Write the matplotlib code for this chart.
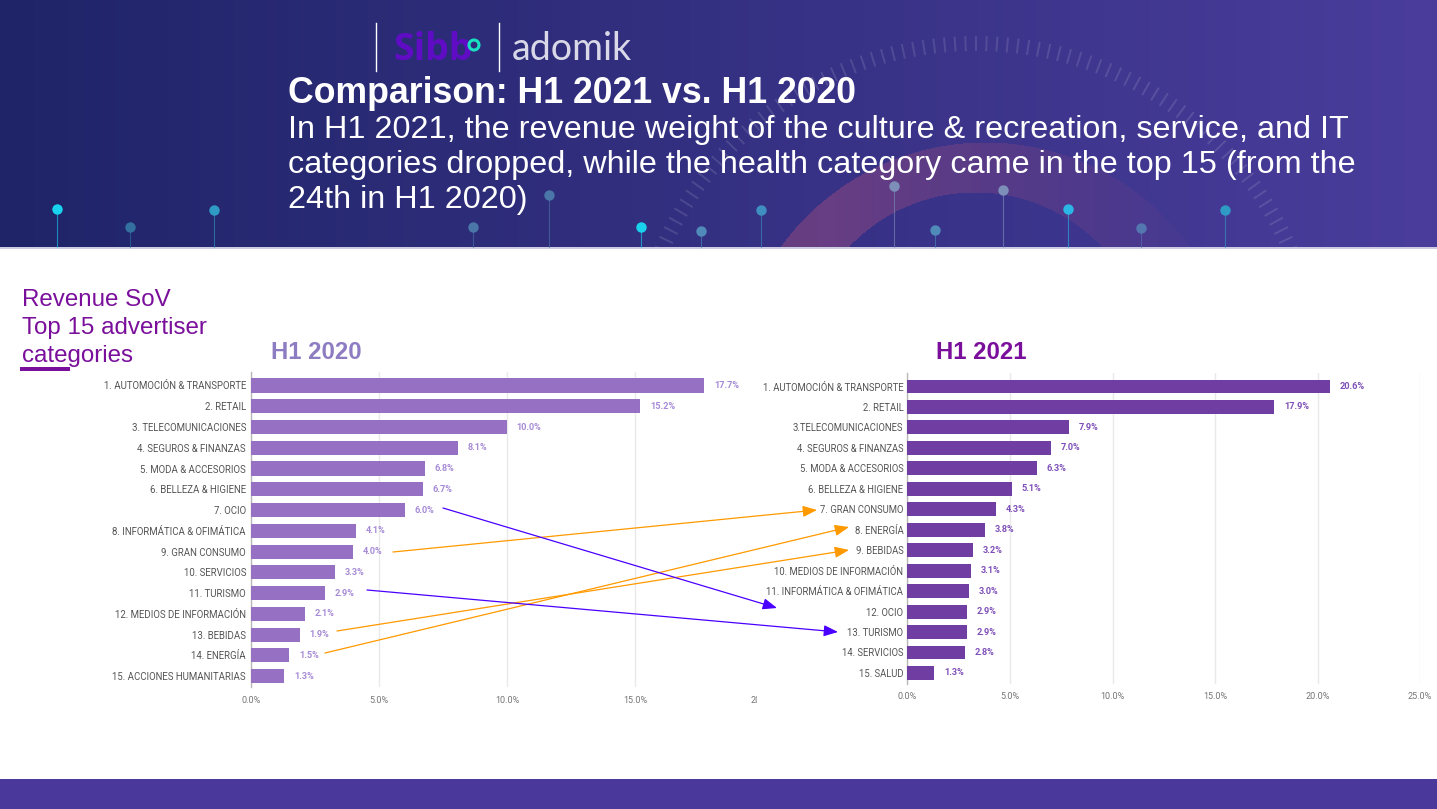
import numpy as np
import matplotlib
matplotlib.use('Agg')
import matplotlib.pyplot as plt
from matplotlib.collections import LineCollection
from matplotlib.patches import Rectangle, Circle

W, H = 1437, 809

labels_2020 = ['1. AUTOMOCIÓN & TRANSPORTE', '2. RETAIL', '3. TELECOMUNICACIONES', '4. SEGUROS & FINANZAS',
               '5. MODA & ACCESORIOS', '6. BELLEZA & HIGIENE', '7. OCIO', '8. INFORMÁTICA & OFIMÁTICA',
               '9. GRAN CONSUMO', '10. SERVICIOS', '11. TURISMO', '12. MEDIOS DE INFORMACIÓN',
               '13. BEBIDAS', '14. ENERGÍA', '15. ACCIONES HUMANITARIAS']
values_2020 = [17.7, 15.2, 10.0, 8.1, 6.8, 6.7, 6.0, 4.1, 4.0, 3.3, 2.9, 2.1, 1.9, 1.5, 1.3]

labels_2021 = ['1. AUTOMOCIÓN & TRANSPORTE', '2. RETAIL', '3.TELECOMUNICACIONES', '4. SEGUROS & FINANZAS',
               '5. MODA & ACCESORIOS', '6. BELLEZA & HIGIENE', '7. GRAN CONSUMO', '8. ENERGÍA',
               '9. BEBIDAS', '10. MEDIOS DE INFORMACIÓN', '11. INFORMÁTICA & OFIMÁTICA', '12. OCIO',
               '13. TURISMO', '14. SERVICIOS', '15. SALUD']
values_2021 = [20.6, 17.9, 7.9, 7.0, 6.3, 5.1, 4.3, 3.8, 3.2, 3.1, 3.0, 2.9, 2.9, 2.8, 1.3]

x_ticks = [0, 5, 10, 15, 20, 25]
x_ticks_2020 = [0, 5, 10, 15, 20]

plt.rcParams['font.family'] = ['Liberation Sans', 'DejaVu Sans']


def px_axes(fig, left, right, top, bottom, zorder):
    # axes placed by pixel edges of the slide
    ax = fig.add_axes([left / W, 1 - bottom / H, (right - left) / W, (bottom - top) / H], zorder=zorder)
    ax.patch.set_alpha(0)
    return ax


def bar_panel(ax, labels, values, color, value_color, ticks, xmax, ylim, label_size, label_pad, tick_pad):
    rows = np.arange(len(labels))
    bars = ax.barh(rows, values, height=0.68, color=color, zorder=3)
    ax.bar_label(bars, labels=[f'{v:.1f}%' for v in values], padding=7, fontsize=6.6, color=value_color,
                 family='Roboto', fontweight='bold')
    ax.set_yticks(rows, labels, fontsize=label_size, color='#555555', family='Roboto')
    ax.set_xticks(ticks, [f'{t:.1f}%' for t in ticks], fontsize=6.5, color='#757575', family='Roboto')
    ax.set_xlim(0, xmax)
    ax.set_ylim(*ylim)
    ax.tick_params(axis='y', length=0, pad=label_pad)
    ax.tick_params(axis='x', length=0, pad=tick_pad)
    ax.grid(axis='x', color='#e9e9e9', linewidth=1, zorder=0)
    ax.set_axisbelow(True)
    for s in ['top', 'right', 'bottom']:
        ax.spines[s].set_visible(False)
    ax.spines['left'].set_color('#b8b8b8')
    ax.spines['left'].set_linewidth(1)


fig = plt.figure(figsize=(W / 100, H / 100), dpi=100, facecolor='white')

# ------------- background: banner, arcs and footer -------------
bg = fig.add_axes([0, 0, 1, 1], zorder=0)
bg.set_axis_off()
xx, yy = np.meshgrid(np.arange(W), np.arange(H))
img = np.ones((H, W, 3))
c_left = np.array([31, 36, 104]) / 255
c_right = np.array([74, 61, 156]) / 255
mix = (xx / W)[..., None]
grad = c_left * (1 - mix) + c_right * mix

# pink arc, fading out to the right
outer = np.hypot(xx - 985, yy - 395) < 253
inner = np.hypot(xx - 975, yy - 366) < 174
arc = (outer & ~inner).astype(float)
fade = np.clip((1230 - xx) / 400, 0, 1)
pink = np.array([122, 66, 130]) / 255
a = (arc * fade * 0.72)[..., None]
grad = grad * (1 - a) + pink * a
dark = (inner * 0.12)[..., None]
grad = grad * (1 - dark) + np.array([40, 40, 130]) / 255 * dark

img[:247] = grad[:247]
img[247:249] = [0.80, 0.80, 0.90]
img[779:] = np.array([74, 56, 154]) / 255
bg.imshow(img, extent=(0, W, H, 0), aspect='auto', interpolation='bilinear', zorder=0)
bg.set_xlim(0, W)
bg.set_ylim(H, 0)

# tick ring behind the title
angles = np.radians(np.arange(-160, -18, 1.75))
ring = [[(976 + 335 * np.cos(t), 386 + 335 * np.sin(t)), (976 + 350 * np.cos(t), 386 + 350 * np.sin(t))]
        for t in angles]
ring = LineCollection(ring, colors='white', linewidths=1.4, alpha=0.12, zorder=1)
bg.add_collection(ring)
ring.set_clip_path(Rectangle((0, 0), W, 247, transform=bg.transData))

# little pins along the banner
pins_x = [57, 130, 214, 473, 549, 641, 701, 761, 894, 935, 1003, 1068, 1141, 1225]
pins_y = [209, 227, 210, 227, 195, 227, 231, 210, 186, 230, 190, 209, 228, 210]
pins_c = ['#19d3ee', '#33709f', '#2f9bc4', '#4a76a8', '#4a76a8', '#19d3ee', '#4f8ab8', '#3f8fc0',
          '#7d8fb8', '#4f8ab8', '#7d8fb8', '#2cb6e6', '#5577b0', '#2f9bc4']
for px, py, col in zip(pins_x, pins_y, pins_c):
    bg.plot([px, px], [py, 247], color=col, linewidth=0.8, alpha=0.6, zorder=2)
    bg.plot([px], [py], 'o', color=col, markersize=7.5, zorder=3, markeredgewidth=0)

# logos
for lx in [376, 499]:
    bg.plot([lx, lx], [23, 71], color='white', linewidth=1, zorder=4)
bg.text(393, 60, 'Sibb', fontsize=27, fontweight='bold', color='#5f0cc4', family='Open Sans', zorder=4)
bg.add_patch(Circle((474, 45), 5, facecolor='none', edgecolor='#19e0c0', linewidth=2.2, zorder=4))
bg.text(512, 60, 'adomik', fontsize=27, color='#d8d8e8', family='Lato', zorder=4)

# heading
bg.text(288, 103, 'Comparison: H1 2021 vs. H1 2020', fontsize=25.7, fontweight='bold', color='white', zorder=5)
sub_lines = ['In H1 2021, the revenue weight of the culture & recreation, service, and IT',
             'categories dropped, while the health category came in the top 15 (from the',
             '24th in H1 2020)']
for line, base in zip(sub_lines, [138, 173, 208]):
    bg.text(288, base, line, fontsize=23.3, color='white', zorder=5)

# side note
for line, base in zip(['Revenue SoV', 'Top 15 advertiser', 'categories'], [306, 334, 362]):
    bg.text(22, base, line, fontsize=17.4, color='#7a0f9c', zorder=5)
bg.add_patch(Rectangle((20, 367), 50, 4, facecolor='#7a0f9c', edgecolor='none', zorder=6))

bg.text(271, 359, 'H1 2020', fontsize=17.2, fontweight='bold', color='#8e7cc3', zorder=5)
bg.text(936, 359, 'H1 2021', fontsize=17.2, fontweight='bold', color='#7a0f9c', zorder=5)

# ------------------------- H1 2020 -------------------------
ax1 = px_axes(fig, 251, 763, 372, 687, 1)
bar_panel(ax1, labels_2020, values_2020, '#9670c2', '#a68bd6', x_ticks_2020, 20, (14.52, -0.65), 6.9, 3.6, 6.5)
# the right chart sits on top of the left one and cuts its 20% label
ax1.add_patch(Rectangle((757, 365), 40, 345, transform=bg.transData, facecolor='white', edgecolor='none',
                        clip_on=False, zorder=10))

# ------------------------- H1 2021 -------------------------
ax2 = px_axes(fig, 907.5, 1420, 373, 684, 2)
bar_panel(ax2, labels_2021, values_2021, '#703ea3', '#7e4fb8', x_ticks, 25, (14.54, -0.66), 6.85, 3.0, 6)

# ------------------------- rank arrows -------------------------
top = fig.add_axes([0, 0, 1, 1], zorder=3)
top.set_axis_off()
top.patch.set_alpha(0)
top.set_xlim(0, W)
top.set_ylim(H, 0)
arrows = [((393, 552), (817, 510), '#ff9900'),
          ((337, 631), (849, 550), '#ff9900'),
          ((325, 653), (849, 527), '#ff9900'),
          ((443, 508), (777, 608), '#4a00ff'),
          ((367, 590), (838, 632), '#4a00ff')]
for start, end, col in arrows:
    top.annotate('', xy=end, xytext=start,
                 arrowprops=dict(arrowstyle='-|>,head_length=0.43,head_width=0.17', color=col, lw=0.9,
                                 mutation_scale=20, shrinkA=0, shrinkB=0))

fig.savefig('out.png', dpi=100)
